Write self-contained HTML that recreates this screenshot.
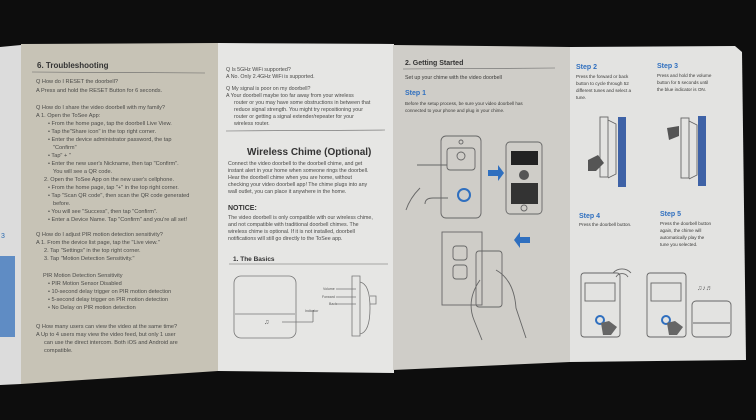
<!DOCTYPE html>
<html><head><meta charset="utf-8"><style>
html,body{margin:0;padding:0;background:#0c0c0c;width:756px;height:420px;overflow:hidden}
svg{display:block}
text{font-family:"Liberation Sans",sans-serif}
</style></head><body>
<svg width="756" height="420" viewBox="0 0 756 420" xmlns="http://www.w3.org/2000/svg">
<rect width="756" height="420" fill="#0d0d0d"/>
<!-- left sliver -->
<polygon points="0,47 21,45 21,384 0,385" fill="#dcdcdc"/>
<rect x="0" y="256" width="15" height="81" fill="#5f8cc4"/>
<text x="1" y="238" font-size="7" fill="#2a6ab0">3</text>
<!-- troubleshooting panel -->
<polygon points="21,44 218,43 218,371 21,384" fill="#c7c3b6"/>
<!-- panel 3 -->
<polygon points="218,43 394,44 394,373 218,371" fill="#e6e6e4"/>
<!-- panel 4 -->
<polygon points="393,45 570,47 570,362 393,370" fill="#cfcdc8"/>
<!-- panel 5 -->
<polygon points="570,47 735,46 742,52 746,360 570,362" fill="#e3e3e1"/>

<g fill="#4a4a48" font-size="5.6">
<text x="37" y="68" font-size="8" font-weight="bold" fill="#333">6. Troubleshooting</text>
<line x1="32" y1="72" x2="205" y2="73" stroke="#666" stroke-width="0.6"/>
<text x="36" y="83">Q  How do I RESET the doorbell?</text>
<text x="36" y="92">A  Press and hold the RESET Button for 6 seconds.</text>
<text x="36" y="109">Q  How do I share the video doorbell with my family?</text>
<text x="36" y="117">A  1. Open the ToSee App:</text>
<text x="48" y="125">•  From the home page, tap the doorbell Live View.</text>
<text x="48" y="133">•  Tap the"Share icon" in the top right corner.</text>
<text x="48" y="141">•  Enter the device administrator password, the tap</text>
<text x="53" y="149">"Confirm"</text>
<text x="48" y="157">•  Tap" + "</text>
<text x="48" y="165">•  Enter the new user's Nickname, then tap "Confirm".</text>
<text x="53" y="173">You will see a QR code.</text>
<text x="44" y="181">2. Open the ToSee App on the new user's cellphone.</text>
<text x="48" y="189">•  From the home page, tap "+" in the top right corner.</text>
<text x="48" y="197">•  Tap "Scan QR code", then scan the QR code generated</text>
<text x="53" y="205">before.</text>
<text x="48" y="213">•  You will see "Success", then tap "Confirm".</text>
<text x="48" y="221">•  Enter a Device Name. Tap "Confirm" and you're all set!</text>
<text x="36" y="236">Q  How do I adjust PIR motion detection sensitivity?</text>
<text x="36" y="244">A  1. From the device list page, tap the "Live view."</text>
<text x="44" y="252">2. Tap "Settings" in the top right corner.</text>
<text x="44" y="260">3. Tap "Motion Detection Sensitivity."</text>
<text x="43" y="277">PIR Motion Detection Sensitivity</text>
<text x="48" y="285">•  PIR Motion Sensor Disabled</text>
<text x="48" y="293">•  10-second delay trigger on PIR motion detection</text>
<text x="48" y="301">•  5-second delay trigger on PIR motion detection</text>
<text x="48" y="309">•  No Delay on PIR motion detection</text>
<text x="36" y="328">Q  How many users can view the video at the same time?</text>
<text x="36" y="336">A  Up to 4 users may view the video feed, but only 1 user</text>
<text x="44" y="344">can use the direct intercom. Both iOS and Android are</text>
<text x="44" y="352">compatible.</text>
</g>

<g fill="#4a4a48" font-size="5.3">
<text x="226" y="71">Q  Is 5GHz WiFi supported?</text>
<text x="226" y="78">A  No. Only 2.4GHz WiFi is supported.</text>
<text x="226" y="90">Q  My signal is poor on my doorbell?</text>
<text x="226" y="97">A  Your doorbell maybe too far away from your wireless</text>
<text x="234" y="104">router or you may have some obstructions in between that</text>
<text x="234" y="111">reduce signal strength. You might try repositioning your</text>
<text x="234" y="118">router or getting a signal extender/repeater for your</text>
<text x="234" y="125">wireless router.</text>
<line x1="226" y1="131" x2="385" y2="130" stroke="#666" stroke-width="0.6"/>
<text x="247" y="155" font-size="10" font-weight="bold" fill="#333">Wireless Chime (Optional)</text>
<text x="228" y="165">Connect the video doorbell to the doorbell chime, and get</text>
<text x="228" y="172">instant alert in your home when someone rings the doorbell.</text>
<text x="228" y="179">Hear the doorbell chime when you are home, without</text>
<text x="228" y="186">checking your video doorbell app! The chime plugs into any</text>
<text x="228" y="193">wall outlet, you can place it anywhere in the home.</text>
<text x="228" y="210" font-size="7" font-weight="bold" fill="#333">NOTICE:</text>
<text x="228" y="219">The video doorbell is only compatible with our wireless chime,</text>
<text x="228" y="226">and not compatible with traditional doorbell chimes. The</text>
<text x="228" y="233">wireless chime is optional. If it is not installed, doorbell</text>
<text x="228" y="240">notifications will still go directly to the ToSee app.</text>
<text x="233" y="261" font-size="6.5" font-weight="bold" fill="#333">1. The Basics</text>
<line x1="229" y1="264" x2="388" y2="264" stroke="#666" stroke-width="0.6"/>
</g>
<g fill="none" stroke="#777" stroke-width="0.8">
<rect x="234" y="276" width="62" height="62" rx="7"/>
<line x1="235" y1="314" x2="295" y2="314"/>
<path d="M352 276 h8 v60 h-8 z M360 282 q10 2 10 26 q0 24 -10 26 M370 296 h6 v8 h-6"/>
<line x1="282" y1="322" x2="313" y2="322"/><line x1="313" y1="322" x2="313" y2="310"/>
<line x1="336" y1="289" x2="356" y2="289"/><line x1="336" y1="297" x2="356" y2="297"/><line x1="336" y1="304" x2="356" y2="304"/>
</g>
<g font-size="3.5" fill="#555"><text x="323" y="290">Volume</text><text x="322" y="298">Forward</text><text x="329" y="305">Back</text><text x="305" y="312">Indicator</text><text x="264" y="324" font-size="7">♫</text></g>

<g fill="#3a3a38" font-size="5.3">
<text x="405" y="65" font-size="7" font-weight="bold" fill="#333">2. Getting Started</text>
<line x1="403" y1="69" x2="555" y2="68" stroke="#666" stroke-width="0.6"/>
<text x="405" y="79">Set up your chime with the video doorbell</text>
<text x="405" y="95" font-size="7" font-weight="bold" fill="#2f6fbf">Step 1</text>
<text x="405" y="105" font-size="4.6">Before the setup process, be sure your video doorbell has</text>
<text x="405" y="112" font-size="4.6">connected to your phone and plug in your chime.</text>
</g>
<g fill="none" stroke="#666" stroke-width="0.9">
<rect x="441" y="136" width="40" height="82" rx="5"/>
<rect x="447" y="148" width="28" height="22" rx="3"/>
<circle cx="461" cy="156" r="4"/><circle cx="461" cy="142" r="2"/>
<path d="M417 165 h30 M420 188 q-10 10 -14 22 M448 198 h-15 q-8 0 -8 6"/>
<rect x="506" y="142" width="36" height="72" rx="4"/>
<circle cx="524" cy="208" r="3"/>
<rect x="442" y="232" width="40" height="73"/>
<rect x="476" y="251" width="26" height="56" rx="3"/>
<path d="M496 270 q18 10 20 38 l10 30 M480 280 q-14 20 -6 40 l8 20"/>
<rect x="453" y="246" width="14" height="14" rx="3"/><rect x="453" y="265" width="14" height="14" rx="3"/>
</g>
<rect x="511" y="151" width="27" height="14" fill="#222"/>
<rect x="511" y="183" width="27" height="21" fill="#333"/>
<circle cx="524" cy="175" r="5" fill="#555"/>
<circle cx="464" cy="195" r="6" fill="none" stroke="#2f6fbf" stroke-width="2"/>
<path d="M488 170 h10 v-5 l6 8 l-6 8 v-5 h-10 z" fill="#2f6fbf"/>
<path d="M530 237 h-10 v-5 l-6 8 l6 8 v-5 h10 z" fill="#2f6fbf"/>

<g fill="#3a3a38" font-size="4.6">
<text x="576" y="69" font-size="7" font-weight="bold" fill="#2f6fbf">Step 2</text>
<text x="576" y="78">Press the forward or back</text>
<text x="576" y="85">button to cycle through 52</text>
<text x="576" y="92">different tunes and select a</text>
<text x="576" y="99">tune.</text>
<text x="657" y="68" font-size="7" font-weight="bold" fill="#2f6fbf">Step 3</text>
<text x="657" y="77">Press and hold the volume</text>
<text x="657" y="84">button for 5 seconds until</text>
<text x="657" y="91">the blue indicator is ON.</text>
<text x="579" y="218" font-size="7" font-weight="bold" fill="#2f6fbf">Step 4</text>
<text x="579" y="226">Press the doorbell button.</text>
<text x="660" y="216" font-size="7" font-weight="bold" fill="#2f6fbf">Step 5</text>
<text x="660" y="225">Press the doorbell button</text>
<text x="660" y="232">again, the chime will</text>
<text x="660" y="239">automatically play the</text>
<text x="660" y="246">tune you selected.</text>
</g>
<rect x="618" y="117" width="8" height="70" fill="#3e62a6"/>
<rect x="698" y="116" width="8" height="70" fill="#3e62a6"/>
<g fill="none" stroke="#666" stroke-width="0.9">
<rect x="600" y="117" width="8" height="60"/><path d="M608 120 l8 4 v50 l-8 4"/>
<rect x="681" y="118" width="8" height="60"/><path d="M689 121 l8 4 v50 l-8 4"/>
<rect x="581" y="273" width="39" height="64" rx="3"/><rect x="585" y="283" width="30" height="18"/>
<rect x="647" y="273" width="39" height="64" rx="3"/><rect x="651" y="283" width="30" height="18"/>
<rect x="692" y="301" width="39" height="36" rx="4"/><line x1="693" y1="323" x2="730" y2="323"/>
<path d="M613 273 a12 12 0 0 1 18 0 M616 277 a7 7 0 0 1 12 0"/>
</g>
<path d="M588 160 l10 -5 l6 8 l-8 8 h-8 z M667 128 l12 -2 v10 l-10 4 z" fill="#555"/>
<circle cx="600" cy="320" r="4" fill="none" stroke="#2f6fbf" stroke-width="2"/>
<circle cx="666" cy="320" r="4" fill="none" stroke="#2f6fbf" stroke-width="2"/>
<path d="M601 323 l8 -2 l8 6 l-6 8 h-8 z M667 323 l8 -2 l8 6 l-6 8 h-8 z" fill="#666"/>
<text x="697" y="290" font-size="7" fill="#666">♫♪♬</text>
</svg>
</body></html>
